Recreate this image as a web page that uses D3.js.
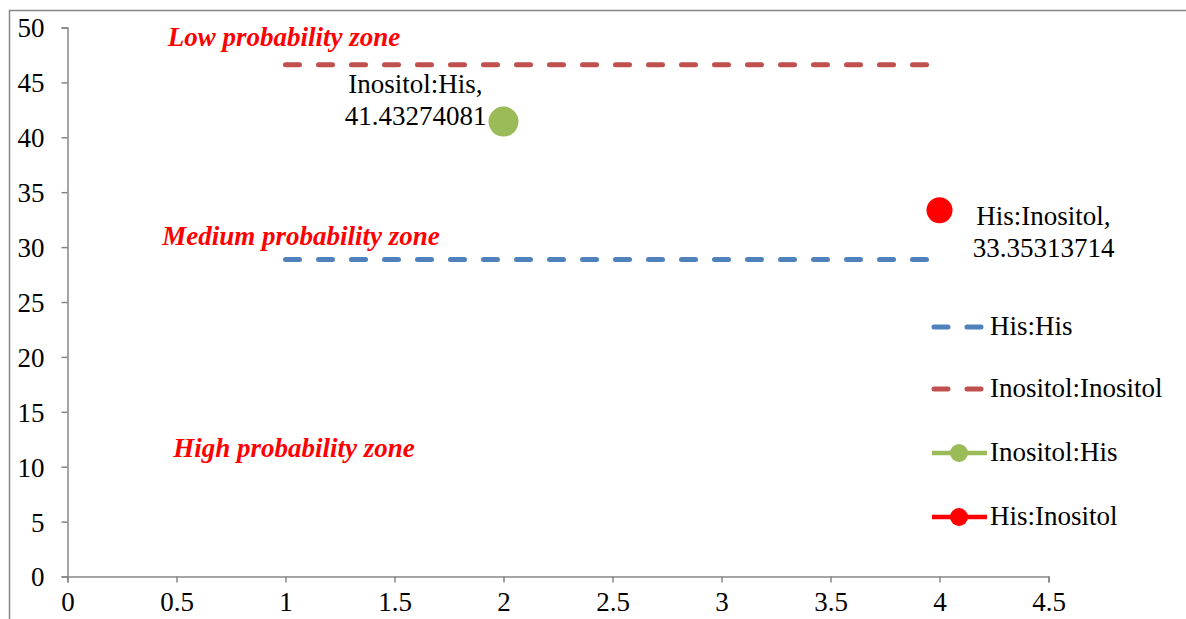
<!DOCTYPE html>
<html><head><meta charset="utf-8">
<script src="https://cdn.jsdelivr.net/npm/d3@7"></script>
</head><body style="margin:0">
<svg id="c" width="1186" height="619" style="display:block;font-family:'Liberation Serif'"></svg>
<script>
const xTicks = [0, 0.5, 1, 1.5, 2, 2.5, 3, 3.5, 4, 4.5];
const yTicks = [0, 5, 10, 15, 20, 25, 30, 35, 40, 45, 50];
const hisHisX = [1, 4];
const hisHisY = [28.87, 28.87];
const inoInoX = [1, 4];
const inoInoY = [46.6, 46.6];
const inoHisPoint = [2, 41.43274081];
const hisInoPoint = [4, 33.35313714];
const seriesNames = ["His:His", "Inositol:Inositol", "Inositol:His", "His:Inositol"];
const seriesColors = ["#4F81BD", "#C0504D", "#9BBB59", "#FF0000"];
const zones = [
  {text: "Low probability zone", x: 0.46, y: 48.3},
  {text: "Medium probability zone", x: 0.435, y: 30.2},
  {text: "High probability zone", x: 0.485, y: 10.9}
];

const FS = "27px";
const svg = d3.select("#c");
function serifText(sel) {
  return sel.style("font-family", '"Liberation Serif"').style("font-size", FS);
}
const x = d3.scaleLinear().domain([0, 4.5]).range([67.5, 1048.5]);
const y = d3.scaleLinear().domain([0, 50]).range([576.5, 27.5]);
const axisColor = "#868686";

svg.append("path").attr("d", "M9.5,619 V10.5 H1186").attr("fill", "none").attr("stroke", axisColor).attr("stroke-width", 1.5);

const gx = svg.append("g").attr("transform", `translate(0,${y(0)})`)
  .call(d3.axisBottom(x).tickValues(xTicks).tickSize(6).tickSizeOuter(6).tickFormat(d3.format("")));
const gy = svg.append("g").attr("transform", `translate(${x(0)},0)`)
  .call(d3.axisLeft(y).tickValues(yTicks).tickSize(6).tickSizeOuter(6).tickFormat(d3.format("")));
[gx, gy].forEach(g => {
  g.attr("font-family", null).attr("font-size", null);
  g.selectAll("path,line").attr("stroke", axisColor).attr("stroke-width", 1.5);
  serifText(g.selectAll("text").attr("fill", "#000"));
});
gx.selectAll("text").attr("dy", "0.71em").attr("y", 15);
gy.selectAll("text").attr("x", -23).attr("dy", "0.35em");

const line = d3.line().x(d => x(d[0])).y(d => y(d[1]));
const dashed = [[hisHisX, hisHisY, 0], [inoInoX, inoInoY, 1]];
dashed.forEach(([xs, ys, i]) => {
  svg.append("path").attr("d", line(xs.map((v, k) => [v, ys[k]])))
    .attr("fill", "none").attr("stroke", seriesColors[i]).attr("stroke-width", 5)
    .attr("stroke-linecap", "round").attr("stroke-dasharray", "14,19");
});

svg.append("circle").attr("cx", x(inoHisPoint[0])).attr("cy", y(inoHisPoint[1])).attr("r", 15).attr("fill", seriesColors[2]);
svg.append("circle").attr("cx", x(hisInoPoint[0])).attr("cy", y(hisInoPoint[1])).attr("r", 13).attr("fill", seriesColors[3]);

function dataLabel(name, val, cx, baseY) {
  const t = serifText(svg.append("text")).attr("text-anchor", "middle").attr("fill", "#000");
  t.append("tspan").attr("x", cx).attr("y", baseY).text(name + ",");
  t.append("tspan").attr("x", cx).attr("y", baseY + 32).text(val);
}
dataLabel("Inositol:His", "41.43274081", x(inoHisPoint[0]) - 88, y(inoHisPoint[1]) - 29);
dataLabel("His:Inositol", "33.35313714", x(hisInoPoint[0]) + 104, y(hisInoPoint[1]) + 15);

zones.forEach(z => {
  serifText(svg.append("text")).attr("x", x(z.x)).attr("y", y(z.y))
    .attr("fill", "#FF0000").style("font-weight", "bold").style("font-style", "italic").text(z.text);
});

const legY = [327, 389, 453, 517];
seriesNames.forEach((n, i) => {
  const g = svg.append("g").attr("transform", `translate(932,${legY[i]})`);
  if (i < 2) {
    g.append("line").attr("x1", 2).attr("x2", 53).attr("stroke", seriesColors[i]).attr("stroke-width", 5)
      .attr("stroke-linecap", "round").attr("stroke-dasharray", "14,19");
  } else {
    g.append("line").attr("x1", 0).attr("x2", 55).attr("stroke", seriesColors[i]).attr("stroke-width", 4.5);
    g.append("circle").attr("cx", 27).attr("r", 9).attr("fill", seriesColors[i]);
  }
  serifText(g.append("text")).attr("x", 58).attr("dy", "0.3em").attr("fill", "#000").text(n);
});
</script>
</body></html>
